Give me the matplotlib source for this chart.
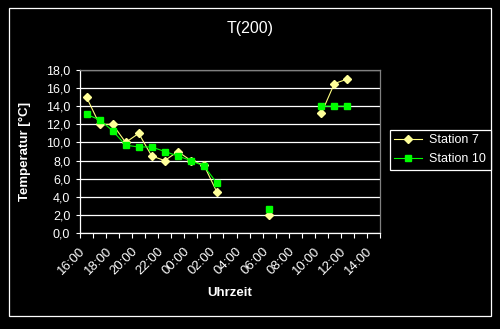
import numpy as np
import matplotlib
matplotlib.use("Agg")
import matplotlib.pyplot as plt
from matplotlib.patches import Rectangle
from matplotlib.transforms import ScaledTranslation

nan = np.nan

# hourly categories from 16:00 to 14:00 next day
hours = [16, 17, 18, 19, 20, 21, 22, 23, 0, 1, 2, 3, 4, 5, 6, 7, 8, 9, 10, 11, 12, 13, 14]
hour_labels = ["%02d:00" % h for h in hours]

station7 = [15.0, 12.0, 12.0, 10.0, 11.0, 8.5, 8.0, 9.0, 8.0, 7.5, 4.5,
            nan, nan, nan, 2.0, nan, nan, nan, 13.2, 16.5, 17.0, nan, nan]
station10 = [13.1, 12.5, 11.3, 9.7, 9.5, 9.5, 9.0, 8.5, 8.0, 7.4, 5.5,
             nan, nan, nan, 2.7, nan, nan, nan, 14.0, 14.0, 14.0, nan, nan]

yticks = np.arange(0, 18.1, 2)

plt.rcParams['font.family'] = ['Liberation Sans', 'DejaVu Sans']

fig = plt.figure(figsize=(5, 3.29), dpi=100, facecolor='black')
W, H = 500, 329
ax = fig.add_axes([80 / W, 1 - 233 / H, 300 / W, 163 / H], facecolor='black')

x = np.arange(len(hours))
ax.plot(x, station7, color='#ffff80', lw=0.8, marker='D', ms=4.5,
        mfc='#ffff99', mec='#ffff99', label='Station 7', zorder=3)
ax.plot(x, station10, color='#00ff00', lw=0.8, marker='s', ms=4.5,
        mfc='#00ff00', mec='#00ff00', label='Station 10', zorder=4)

ax.set_xlim(-0.5, len(hours) - 0.5)
ax.set_ylim(0, 18)
ax.set_yticks(yticks)
ax.set_yticklabels([("%.1f" % v).replace('.', ',') for v in yticks],
                   color='white', fontsize=9)
ax.yaxis.grid(True, color='white', lw=0.9)
ax.set_axisbelow(True)

# labels every two hours, tick marks on category boundaries
ax.set_xticks(x[::2])
ax.set_xticklabels(hour_labels[::2], rotation=45, ha='right', va='top',
                   rotation_mode='anchor', color='white', fontsize=9.5)
ax.tick_params(axis='x', which='major', length=0, pad=9)
shift = ScaledTranslation(-7 / 100, 0, fig.dpi_scale_trans)
for lab in ax.get_xticklabels():
    lab.set_transform(lab.get_transform() + shift)
ax.set_xticks(np.arange(len(hours) + 1) - 0.5, minor=True)
ax.tick_params(axis='x', which='minor', length=3.5, color='white', width=0.8)
ax.tick_params(axis='y', length=3, color='white', width=0.8, pad=4)

for s in ['left', 'bottom']:
    ax.spines[s].set_color('white')
    ax.spines[s].set_linewidth(0.9)
for s in ['top', 'right']:
    ax.spines[s].set_color('#808080')
    ax.spines[s].set_linewidth(0.9)

ax.set_ylabel('Temperatur [°C]', color='white', fontsize=9.5, fontweight='bold')
ax.yaxis.set_label_coords(-(80 - 31) / 300, 0.5)
ax.set_xlabel('Uhrzeit', color='white', fontsize=9.5, fontweight='bold')
ax.xaxis.set_label_coords(0.5, -(287 - 233) / 163)

fig.text(0.5, 1 - 29 / H, 'T(200)', color='white', fontsize=11.5,
         ha='center', va='center')

leg = fig.legend(loc='upper left', bbox_to_anchor=(390 / W, 1 - 130 / H),
                 borderaxespad=0, fancybox=False, facecolor='black',
                 edgecolor='white', framealpha=1, fontsize=9,
                 handlelength=2.2, labelcolor='white', borderpad=0.35,
                 labelspacing=0.55, handletextpad=0.6)
leg.get_frame().set_linewidth(0.9)

fig.patches.append(Rectangle((9 / W, 1 - 316 / H), 482 / W, 308 / H,
                             transform=fig.transFigure, fill=False,
                             edgecolor='white', lw=0.9))

fig.savefig('out.png', dpi=100, facecolor='black')
